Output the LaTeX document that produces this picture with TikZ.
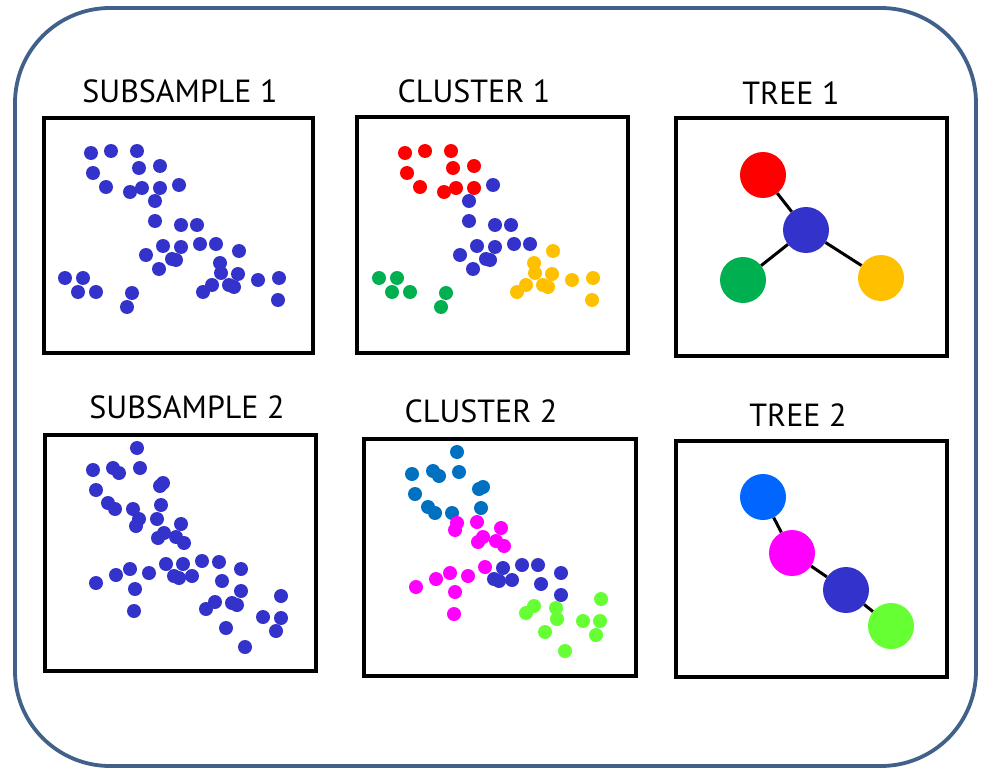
\documentclass[tikz,border=0pt]{standalone}
\usepackage{fontspec}
\setmainfont{PT Sans}
\usetikzlibrary{positioning}
\definecolor{framecol}{HTML}{41618A}
\definecolor{dotblue}{HTML}{3333CC}
\definecolor{dotred}{HTML}{FF0000}
\definecolor{dotgreen}{HTML}{00B050}
\definecolor{dotyellow}{HTML}{FFC000}
\definecolor{dotteal}{HTML}{0070C0}
\definecolor{dotpink}{HTML}{FF00FF}
\definecolor{dotlime}{HTML}{66FF33}
\definecolor{nodesky}{HTML}{0066FF}

\tikzset{
  panel/.style={draw, line width=3.3pt, inner sep=0pt, minimum width=271pt, minimum height=236pt},
  title/.style={anchor=base, font=\fontsize{32}{36}\selectfont},
  leaf/.style={circle, fill=#1, inner sep=0pt, minimum size=46pt},
  link/.style={line width=3pt},
}

\begin{document}
\begin{tikzpicture}[x=1pt, y=-1pt]
\useasboundingbox (0,0) rectangle (982,770);
\draw[framecol, line width=3.8pt, rounded corners=95pt] (15,8) rectangle (976,766);

% panels
\node[panel, minimum width=269pt, minimum height=235pt] (sub1) at (178.5,235.5) {};
\node[panel] (clu1) at (492.5,235) {};
\node[panel, minimum height=238pt] (tree1) at (811.5,237) {};
\node[panel] (sub2) at (180.5,553) {};
\node[panel, minimum width=272pt, minimum height=237pt] (clu2) at (500,557.5) {};
\node[panel] (tree2) at (811.5,559) {};

% titles
\node[title] (tsub1) at (180,103) {SUBSAMPLE 1};
\node[title] (tclu1) at (474,103) {CLUSTER 1};
\node[title] (ttree1) at (791,105) {TREE 1};
\node[title] (tsub2) at (187,418) {SUBSAMPLE 2};
\node[title] (tclu2) at (481,422) {CLUSTER 2};
\node[title] (ttree2) at (798,426) {TREE 2};

% subsample 1 and cluster 1 (same points, shifted)
\foreach \x/\y in {91/153,111/151,137/151,139/168,160/166,93/173,106/187,130/192,142/188,160/188}
  {\fill[dotblue] (\x,\y) circle (7pt); \fill[dotred, xshift=314pt] (\x,\y) circle (7pt);}
\foreach \x/\y in {179/185,155/201,155/221,181/225,197/225,163/246,181/247,200/244,216/244,146/255,172/259,176/260,159/269}
  {\fill[dotblue] (\x,\y) circle (7pt); \fill[dotblue, xshift=314pt] (\x,\y) circle (7pt);}
\foreach \x/\y in {239/251,220/263,221/273,238/274,258/280,279/278,212/285,203/292,229/285,234/287,278/300}
  {\fill[dotblue] (\x,\y) circle (7pt); \fill[dotyellow, xshift=314pt] (\x,\y) circle (7pt);}
\foreach \x/\y in {65/278,83/278,78/292,96/292,132/293,127/307}
  {\fill[dotblue] (\x,\y) circle (7pt); \fill[dotgreen, xshift=314pt] (\x,\y) circle (7pt);}

% subsample 2
\foreach \x/\y in {137/448,93/470,113/468,119/473,140/468,163/483,160/486,96/490,108/503,115/509,133/509,161/505,
  139/519,136/526,157/519,181/524,164/533,158/538,176/537,184/543,96/583,116/575,130/569,149/573,135/589,134/611,
  166/564,183/564,174/576,179/578,192/576,202/561,219/562,222/581,241/569,241/591,
  215/602,206/609,232/603,237/605,226/628,245/647,263/617,281/596,281/618,276/631}
  {\fill[dotblue] (\x,\y) circle (7pt);}

% cluster 2
\foreach \x/\y in {457/452,412/474,433/471,439/476,459/472,483/487,479/489,415/494,428/507,435/513,452/513,481/508}
  {\fill[dotteal] (\x,\y) circle (7pt);}
\foreach \x/\y in {457/523,455/530,477/522,501/528,483/537,478/542,496/541,504/546,416/587,436/579,450/573,468/576,455/592,454/614,485/567}
  {\fill[dotpink] (\x,\y) circle (7pt);}
\foreach \x/\y in {503/568,494/579,499/581,512/580,522/565,538/565,541/584,561/573,561/595}
  {\fill[dotblue] (\x,\y) circle (7pt);}
\foreach \x/\y in {534/606,526/613,556/608,557/619,545/632,565/651,583/621,601/599,600/621,596/635}
  {\fill[dotlime] (\x,\y) circle (7pt);}

% tree 1
\node[leaf=dotred] (r1) at (763,175) {};
\node[leaf=dotblue] (b1) at (806,230) {};
\node[leaf=dotgreen] (g1) at (743,280) {};
\node[leaf=dotyellow] (y1) at (881,278) {};
\draw[link] (r1) -- (b1);
\draw[link] (b1) -- (g1);
\draw[link] (b1) -- (y1);

% tree 2
\node[leaf=nodesky] (s2) at (763,497) {};
\node[leaf=dotpink] (p2) at (792,553) {};
\node[leaf=dotblue] (b2) at (846,590) {};
\node[leaf=dotlime] (l2) at (891,626) {};
\draw[link] (s2) -- (p2);
\draw[link] (p2) -- (b2);
\draw[link] (b2) -- (l2);
\end{tikzpicture}
\end{document}
